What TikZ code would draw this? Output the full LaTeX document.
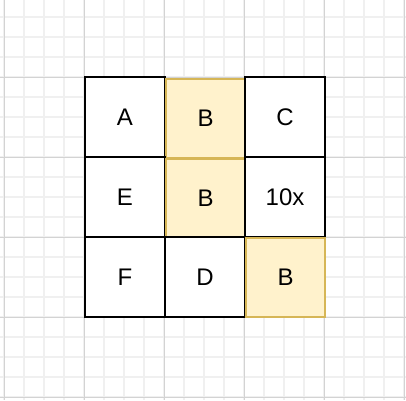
\documentclass[tikz,border=0pt]{standalone}
\usepackage{fontspec}
\setmainfont{Liberation Sans}
\definecolor{minorgrid}{HTML}{F0F0F0}
\definecolor{majorgrid}{HTML}{D3D3D3}
\definecolor{bfill}{HTML}{FFF2CC}
\definecolor{bline}{HTML}{D6B656}
\tikzset{
  plaincell/.style={draw=black, fill=white, line width=2pt, minimum width=80pt, minimum height=80pt, inner sep=0pt, font=\fontsize{24}{28}\selectfont},
  yellowcell/.style={draw=bline, fill=bfill, line width=2pt, minimum width=79pt, minimum height=79pt, inner sep=0pt, font=\fontsize{24}{28}\selectfont},
}
\begin{document}
\begin{tikzpicture}[x=1pt,y=-1pt]
\useasboundingbox (0,0) rectangle (406,400);
\fill[white] (0,0) rectangle (406,400);
% minor grid
\foreach \i in {0,...,20} {
  \draw[minorgrid, line width=1.6pt] (4+20*\i,0) -- (4+20*\i,400);
}
\foreach \j in {0,...,20} {
  \draw[minorgrid, line width=1.6pt] (0,-3+20*\j) -- (406,-3+20*\j);
}
% major grid
\foreach \i in {0,...,5} {
  \draw[majorgrid, line width=1pt] (4+80*\i,0) -- (4+80*\i,400);
}
\foreach \j in {0,...,5} {
  \draw[majorgrid, line width=1pt] (0,-3+80*\j) -- (406,-3+80*\j);
}
% cells in drawing order
\node[plaincell] (a) at (125,117) {A};
\node[yellowcell] (b1) at (205.5,118) {B};
\node[plaincell] (c) at (285,117) {C};
\node[plaincell] (e) at (125,197) {E};
\node[yellowcell] (b2) at (205.5,198) {B};
\node[plaincell] (x) at (285,197) {10x};
\node[plaincell] (f) at (125,277) {F};
\node[plaincell] (d) at (205,277) {D};
\node[yellowcell] (b3) at (285.5,277.5) {B};
\end{tikzpicture}
\end{document}
